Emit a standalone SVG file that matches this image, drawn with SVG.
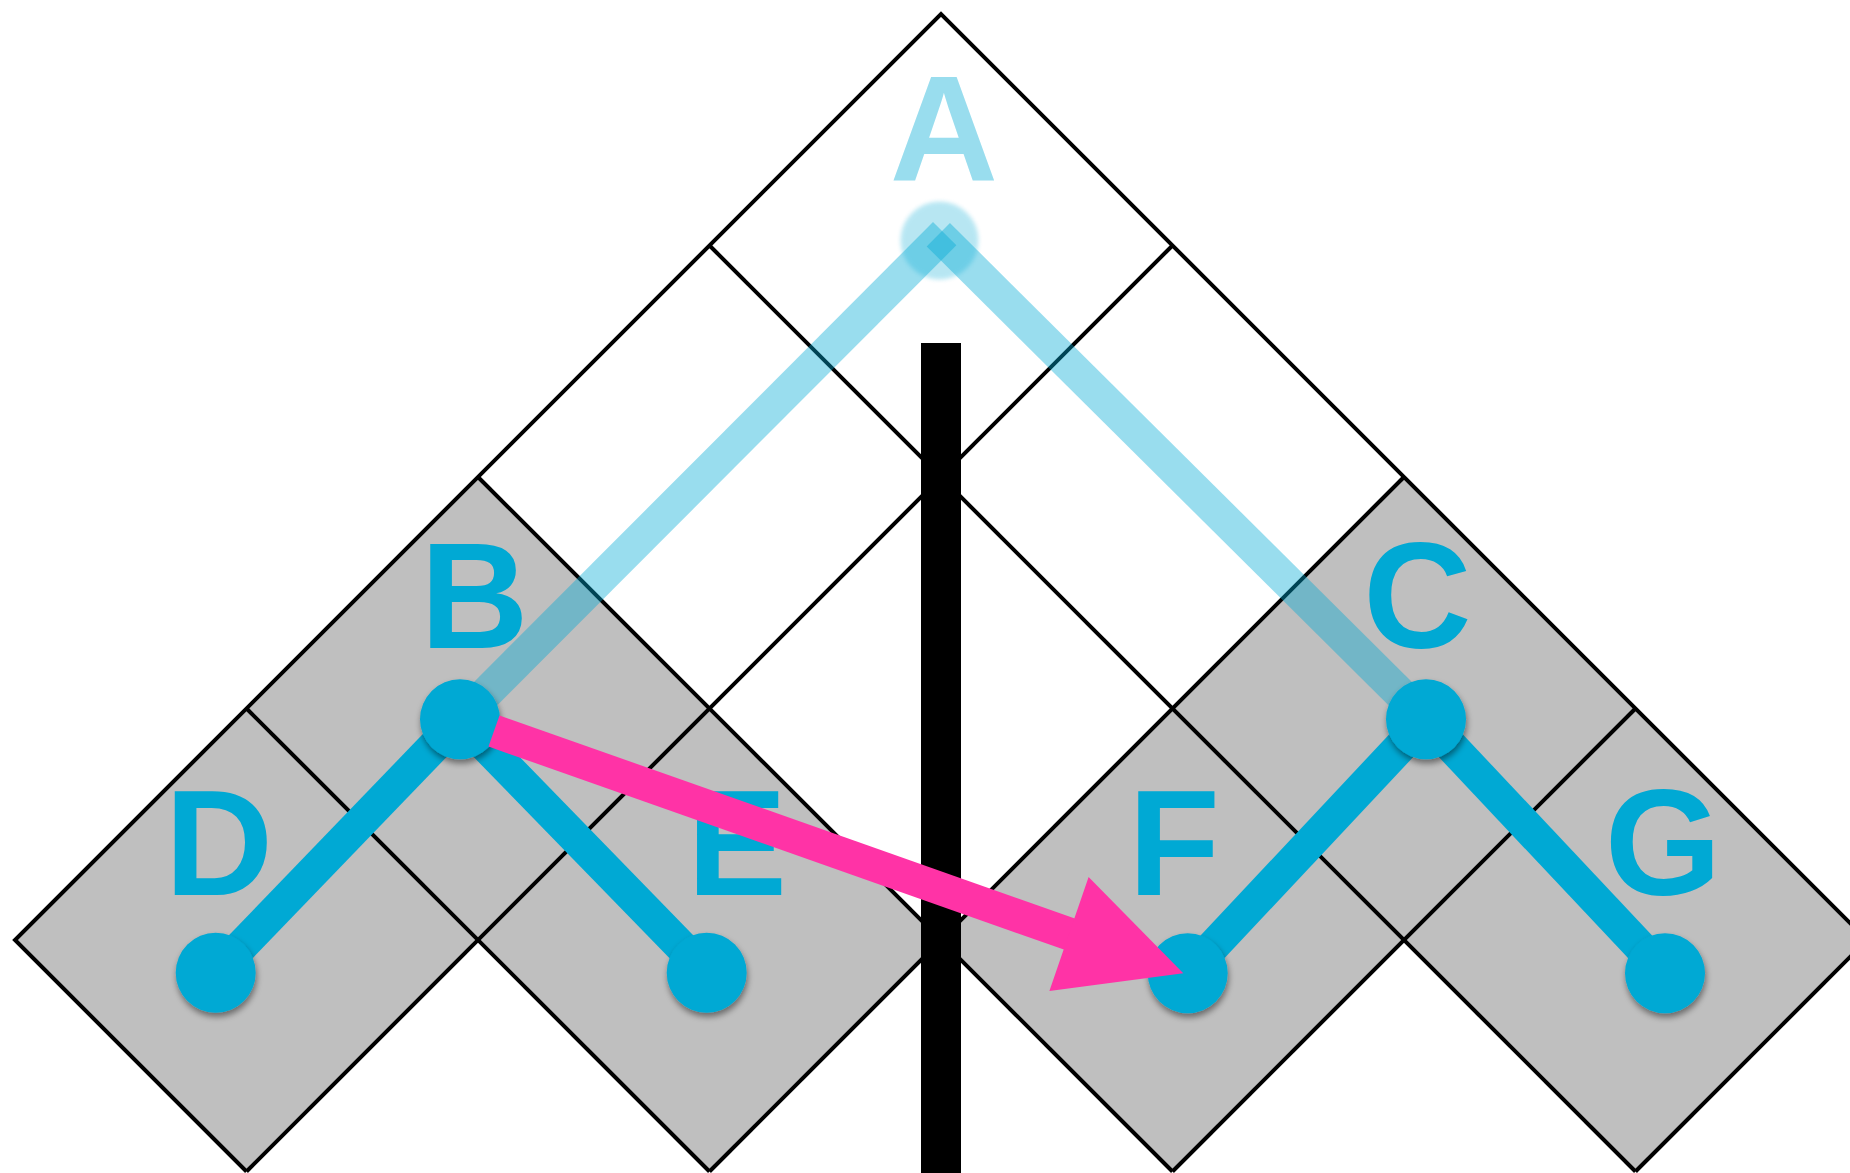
<svg xmlns="http://www.w3.org/2000/svg" width="1850" height="1173" viewBox="0 0 1850 1173">
<style>
.cell{fill:#bfbfbf;stroke:none}
.grid{stroke:#000;stroke-width:4;fill:none;stroke-linejoin:miter}
.ghost{stroke:#00a9d4;stroke-opacity:0.4;stroke-width:33;fill:none;stroke-linecap:butt}
.edge{stroke:#00a9d4;stroke-width:33;fill:none;stroke-linecap:butt}
.dot{fill:#00a9d4;filter:url(#sh)}
.lbl{font-family:"Liberation Sans",Arial,sans-serif;font-weight:bold;font-size:150px;fill:#00a9d4;text-anchor:middle}
</style>
<defs>
<filter id="sh" x="-50%" y="-50%" width="200%" height="200%">
<feDropShadow dx="1" dy="4" stdDeviation="3" flood-color="#000" flood-opacity="0.45"/>
</filter>
<filter id="soft" x="-50%" y="-50%" width="200%" height="200%">
<feGaussianBlur stdDeviation="2"/>
</filter>
</defs>
<rect width="1850" height="1173" fill="#fff"/>
<g id="cells">
<polygon class="cell" points="478,477 709.5,708.5 478,940 246.5,708.5"/>
<polygon class="cell" points="246.5,708.5 478,940 246.5,1171.5 15,940"/>
<polygon class="cell" points="709.5,708.5 941,940 709.5,1171.5 478,940"/>
<polygon class="cell" points="1404,477 1635.5,708.5 1404,940 1172.5,708.5"/>
<polygon class="cell" points="1172.5,708.5 1404,940 1172.5,1171.5 941,940"/>
<polygon class="cell" points="1635.5,708.5 1867,940 1635.5,1171.5 1404,940"/>
</g>
<g id="grid">
<polyline class="grid" points="1867,940 941,14 15,940 246.5,1171.5"/>
<line class="grid" x1="1172.5" y1="245.5" x2="246.5" y2="1171.5"/>
<line class="grid" x1="1404" y1="477" x2="709.5" y2="1171.5"/>
<line class="grid" x1="1635.5" y1="708.5" x2="1172.5" y2="1171.5"/>
<line class="grid" x1="1867" y1="940" x2="1635.5" y2="1171.5"/>
<line class="grid" x1="709.5" y1="245.5" x2="1635.5" y2="1171.5"/>
<line class="grid" x1="478" y1="477" x2="1172.5" y2="1171.5"/>
<line class="grid" x1="246.5" y1="708.5" x2="709.5" y2="1171.5"/>
</g>
<rect id="bar" x="921" y="343" width="40" height="830" fill="#000"/>
<g id="connectors">
<line class="ghost" x1="460" y1="719.3" x2="944.7" y2="233.7"/>
<line class="ghost" x1="1426" y1="719.3" x2="938.3" y2="234.7"/>
<line class="edge" x1="460" y1="719.3" x2="215.7" y2="972.7"/>
<line class="edge" x1="460" y1="719.3" x2="706.7" y2="972.7"/>
<line class="edge" x1="1426" y1="719.3" x2="1187.7" y2="973.3"/>
<line class="edge" x1="1426" y1="719.3" x2="1665" y2="973.3"/>
</g>
<g id="node-A">
<circle cx="939.5" cy="240.5" r="39" fill="#00a9d4" opacity="0.28" filter="url(#soft)"/>
<text class="lbl" x="944" y="180" fill-opacity="0.4" style="fill-opacity:0.4">A</text>
</g>
<g id="node-B">
<circle class="dot" cx="460" cy="719.3" r="40"/>
<text class="lbl" x="474.5" y="648">B</text>
</g>
<g id="node-C">
<circle class="dot" cx="1426" cy="719.3" r="40"/>
<text class="lbl" x="1417.5" y="648">C</text>
</g>
<g id="node-D">
<circle class="dot" cx="215.7" cy="972.7" r="40"/>
<text class="lbl" x="219" y="895">D</text>
</g>
<g id="node-E">
<circle class="dot" cx="706.7" cy="972.7" r="40"/>
<text class="lbl" x="737" y="895">E</text>
</g>
<g id="node-F">
<circle class="dot" cx="1187.7" cy="973.3" r="40"/>
<text class="lbl" x="1174" y="895">F</text>
</g>
<g id="node-G">
<circle class="dot" cx="1665" cy="973.3" r="40"/>
<text class="lbl" x="1663" y="895">G</text>
</g>
<g id="arrow">
<line x1="494" y1="731" x2="1075" y2="936" stroke="#ff33a6" stroke-width="33"/>
<polygon points="1088.6,876.9 1183.3,973.3 1049.4,991.1" fill="#ff33a6"/>
</g>
</svg>
